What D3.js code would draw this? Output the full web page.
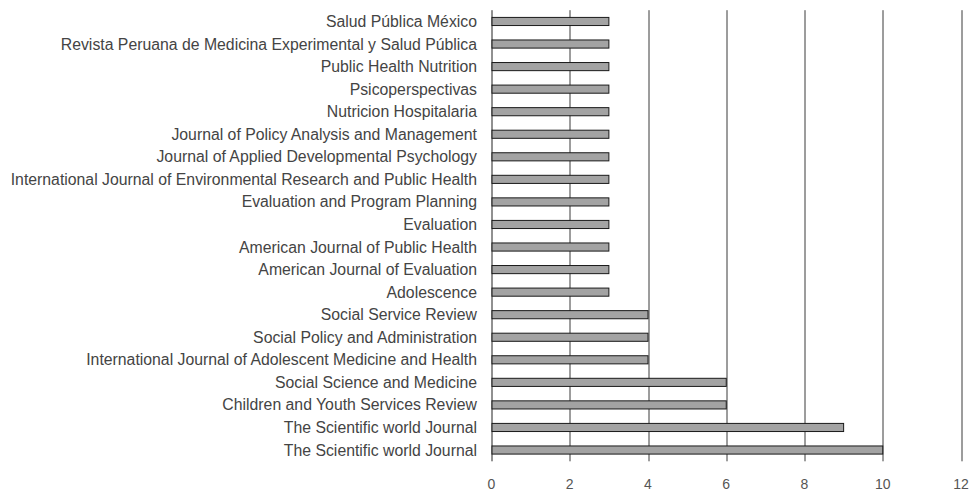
<!DOCTYPE html>
<html lang='en'>
<head>
  <meta charset='UTF-8'>
  <title>Journals</title>
  <script src='https://d3js.org/d3.v7.min.js'></script>
  <style>
    body { margin: 0; background: #fff; }
    text { font-family: 'Liberation Sans', Arial, sans-serif; }
  </style>
</head>
<body>
  <svg width='971' height='491'></svg>

  <script>
    var journals = [
      'Salud Pública México',
      'Revista Peruana de Medicina Experimental y Salud Pública',
      'Public Health Nutrition',
      'Psicoperspectivas',
      'Nutricion Hospitalaria',
      'Journal of Policy Analysis and Management',
      'Journal of Applied Developmental Psychology',
      'International Journal of Environmental Research and Public Health',
      'Evaluation and Program Planning',
      'Evaluation',
      'American Journal of Public Health',
      'American Journal of Evaluation',
      'Adolescence',
      'Social Service Review',
      'Social Policy and Administration',
      'International Journal of Adolescent Medicine and Health',
      'Social Science and Medicine',
      'Children and Youth Services Review',
      'The Scientific world Journal',
      'The Scientific world Journal'
    ];
    var counts = [3, 3, 3, 3, 3, 3, 3, 3, 3, 3, 3, 3, 3, 4, 4, 4, 6, 6, 9, 10];
    var xTicks = [0, 2, 4, 6, 8, 10, 12];

    var svg = d3.select('svg'),
      margin = {top: 10.2, right: 10, bottom: 29.7, left: 491.5},
      width = 961 - margin.left,
      height = +svg.attr('height') - margin.top - margin.bottom,
      g = svg.append('g').attr('transform', 'translate(' + margin.left + ',' + margin.top + ')');

    var x = d3.scaleLinear().domain([0, 12]).range([0, width]);
    var y = d3.scaleBand()
      .domain(d3.range(journals.length))
      .range([0, height])
      .paddingInner(0.64)
      .paddingOuter(0.32);

    // grid lines
    g.selectAll('.grid').data(xTicks)
     .enter().append('line')
      .attr('class', 'grid')
      .attr('x1', d => Math.round(x(d)) + 0.5)
      .attr('x2', d => Math.round(x(d)) + 0.5)
      .attr('y1', 0)
      .attr('y2', height)
      .attr('stroke', d => d === 0 ? '#222' : '#3a3a3a')
      .attr('stroke-width', 1);

    g.selectAll('rect').data(counts)
     .enter().append('rect')
      .attr('x', 0.5)
      .attr('y', (d, i) => y(i))
      .attr('width', d => x(d) - 0.5)
      .attr('height', y.bandwidth())
      .attr('fill', '#a3a3a3')
      .attr('stroke', '#1a1a1a')
      .attr('stroke-width', 1);

    g.selectAll('.label').data(journals)
     .enter().append('text')
      .attr('class', 'label')
      .attr('x', -14.5)
      .attr('y', (d, i) => y(i) + y.bandwidth() / 2)
      .attr('dy', '0.35em')
      .attr('text-anchor', 'end')
      .attr('fill', '#444')
      .style('font-size', '15.8px')
      .text(d => d);

    g.selectAll('.tick-label').data(xTicks)
     .enter().append('text')
      .attr('class', 'tick-label')
      .attr('x', d => x(d))
      .attr('y', height + 23)
      .attr('dy', '0.35em')
      .attr('text-anchor', 'middle')
      .attr('fill', '#555')
      .style('font-size', '14px')
      .text(d => d);
  </script>
</body>
</html>
